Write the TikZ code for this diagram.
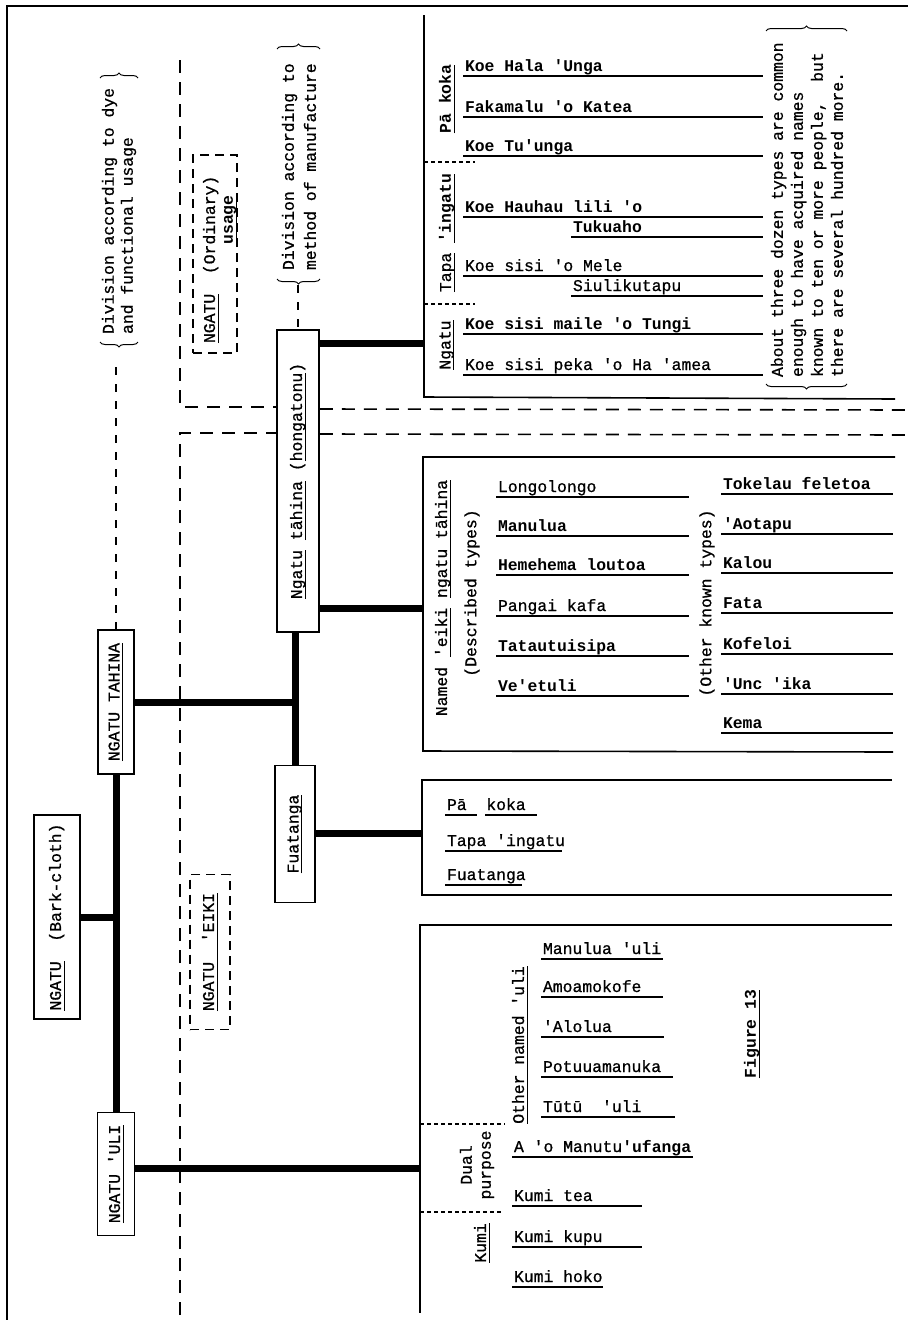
\documentclass[tikz,border=0pt]{standalone}
\usepackage{fontspec}
\setmainfont{Liberation Mono}[Ligatures=TeXOff, UprightFeatures={FakeBold=0.8}]
\usetikzlibrary{decorations.pathreplacing}
\newcommand\twsize{\fontsize{16.4}{20}\selectfont}
\newcommand\myul[1]{\setbox0\hbox{#1}\rlap{\vrule width\wd0 height -2.6pt depth 4pt}\box0\relax}
\tikzset{
  tw/.style={font=\twsize, inner sep=0pt, outer sep=0pt},
  twb/.style={font=\twsize\bfseries, inner sep=0pt, outer sep=0pt},
  vt/.style={tw, rotate=90},
  vtb/.style={twb, rotate=90},
  ent/.style={tw, anchor=base west},
  entb/.style={twb, anchor=base west},
  bx/.style={draw, line width=1.8pt, inner sep=0pt},
  dbx/.style={draw, line width=1.4pt, dash pattern=on 9pt off 6pt, inner sep=0pt},
  trunk/.style={line width=7pt},
  panel/.style={line width=1.6pt},
  ulr/.style={line width=1.5pt},
  sepline/.style={line width=1.3pt, dash pattern=on 4pt off 3pt},
  regline/.style={line width=1.6pt, dash pattern=on 13pt off 9pt},
  guideline/.style={line width=1.2pt, dash pattern=on 8pt off 9pt},
  bracedeco/.style={decorate, decoration={brace, amplitude=5pt}, line width=1pt},
}
\newcommand\tyent[6]{%
  \node[#5] (#1) at (#2,#4-5) {#6};
  \draw[ulr] (#2-2,#4) -- (#3,#4);}
\begin{document}
\begin{tikzpicture}[x=1pt,y=-1pt]
\fill[white] (0,0) rectangle (908,1320);
\useasboundingbox (0,0) rectangle (908,1320);
% frame
\draw[line width=1.5pt] (7,1320) -- (7,6) -- (908,6);

% ---- headings
\node[vt, anchor=west, align=left, font=\fontsize{16.4}{19}\selectfont] (divdye) at (119,334) {Division according to dye\\and functional usage};
\draw[bracedeco] (138,342) -- (100,342);
\draw[bracedeco] (100,78) -- (138,78);
\node[vt, anchor=west, align=left, font=\fontsize{16.4}{22}\selectfont] (divman) at (299,270) {Division according to\\method of manufacture};
\draw[bracedeco] (320,279) -- (277,279);
\draw[bracedeco] (277,49) -- (320,49);

% ---- enclosures
\node[dbx, minimum width=44, minimum height=198] (ord) at (215,254) {};
\node[vt, anchor=west, align=left, font=\fontsize{16.4}{18}\selectfont] (ordt) at (220,343) {\myul{NGATU}~~(Ordinary)\\\phantom{NGATU~~(Or}\myul{\textbf{usage}}};
\node[dbx, minimum width=40, minimum height=155] (eiki) at (210,952) {};
\node[vt] (eikit) at (eiki) {\myul{NGATU~~'EIKI}};

% ---- boxes
\node[bx, minimum width=46, minimum height=204] (ngatu) at (57,917) {};
\node[vt] (ngatut) at (ngatu) {\myul{NGATU}~~(Bark-cloth)};
\node[bx, minimum width=36, minimum height=144] (tahina) at (116,702) {};
\node[vt] (tahinat) at (tahina) {\myul{NGATU TAHINA}};
\node[bx, minimum width=37, minimum height=123] (uli) at (116,1174) {};
\node[vt] (ulit) at (uli) {\myul{NGATU 'ULI}};
\node[bx, minimum width=42, minimum height=302] (nt) at (298,481) {};
\node[vt] (ntt) at (nt) {\myul{Ngatu} \myul{tāhina} (\myul{hongatonu})};
\node[bx, minimum width=40, minimum height=137] (fu) at (295,834) {};
\node[vt] (fut) at (fu) {\myul{Fuatanga}};

% ---- dashed guides and regions
\coordinate (g1) at (116,367);
\draw[guideline] (g1) -- (tahina.north);
\coordinate (g2) at (298,285);
\draw[guideline] (g2) -- (nt.north);
\draw[regline] (180,60) -- (180,407) -- (nt.west |- 0,407);
\draw[regline] (nt.east |- 0,409) -- (908,410);
\draw[regline] (180,1315) -- (180,433) -- (nt.west |- 0,433);
\draw[regline] (nt.east |- 0,434) -- (908,435);

% ---- panel attachment points
\coordinate (P1) at (424,343);
\coordinate (P2) at (423,608);
\coordinate (P3) at (422,833);
\coordinate (P4) at (420,1168);

% ---- thick connectors
\draw[trunk] (ngatu.east) -- (ngatu.east -| tahina.south);
\draw[trunk] (tahina.south) -- (uli.north);
\draw[trunk] (tahina.east) -- (tahina.east -| fu.north);
\draw[trunk] (nt.south -| fu.north) -- (fu.north);
\draw[trunk] (nt.east |- P1) -- (P1);
\draw[trunk] (nt.east |- P2) -- (P2);
\draw[trunk] (fu.east |- P3) -- (P3);
\draw[trunk] (uli.east |- P4) -- (P4);

% ---- panels
\draw[panel] (424,15) -- (424,397) -- (895,399);
\draw[panel] (895,457) -- (423,457) -- (423,751) -- (893,752);
\draw[panel] (892,780) -- (422,780) -- (422,895) -- (892,895);
\draw[panel] (892,925) -- (420,925) -- (420,1313);

% ---- upper panel (hongatonu)
\node[vtb] (lpk) at (447,99) {\myul{Pā koka}};
\node[vt] (lti) at (447,233) {\myul{Tapa} \myul{\textbf{'ingatu}}};
\node[vt] (lng) at (447,345) {\myul{Ngatu}};
\draw[sepline] (424,162) -- (475,162);
\draw[sepline] (424,304) -- (475,304);
\tyent{a1}{465}{763}{76}{entb}{Koe Hala 'Unga}
\tyent{a2}{465}{763}{117}{entb}{Fakamalu 'o Katea}
\tyent{a3}{465}{763}{156}{entb}{Koe Tu'unga}
\tyent{a4}{465}{763}{217}{entb}{Koe Hauhau lili 'o}
\tyent{a5}{573}{763}{237}{entb}{Tukuaho}
\tyent{a6}{465}{763}{276}{ent}{Koe sisi 'o Mele}
\tyent{a7}{573}{763}{296}{ent}{Siulikutapu}
\tyent{a8}{465}{763}{334}{entb}{Koe sisi maile 'o Tungi}
\tyent{a9}{465}{763}{375}{ent}{Koe sisi peka 'o Ha 'amea}
\node[vt, anchor=west, align=left, font=\fontsize{16.4}{20}\selectfont] (about) at (807,377) {About three dozen types are common\\enough to have acquired names\\known to ten or more people,~~but\\there are several hundred more.};
\draw[bracedeco] (847,384) -- (766,384);
\draw[bracedeco] (766,31) -- (847,31);

% ---- middle panel ('eiki ngatu tahina)
\node[vt] (lnamed) at (443,598) {Named \myul{'eiki} \myul{ngatu tāhina}};
\node[vt] (ldesc) at (472,593) {(Described types)};
\node[vt] (lother) at (707,603) {(Other known types)};
\tyent{b1}{498}{689}{497}{ent}{Longolongo}
\tyent{b2}{498}{689}{536}{entb}{Manulua}
\tyent{b3}{498}{689}{575}{entb}{Hemehema loutoa}
\tyent{b4}{498}{689}{616}{ent}{Pangai kafa}
\tyent{b5}{498}{689}{656}{entb}{Tatautuisipa}
\tyent{b6}{498}{689}{696}{entb}{Ve'etuli}
\tyent{c1}{723}{893}{494}{entb}{Tokelau feletoa}
\tyent{c2}{723}{893}{534}{entb}{'Aotapu}
\tyent{c3}{723}{893}{573}{entb}{Kalou}
\tyent{c4}{723}{893}{613}{entb}{Fata}
\tyent{c5}{723}{893}{654}{entb}{Kofeloi}
\tyent{c6}{723}{893}{694}{entb}{'Unc 'ika}
\tyent{c7}{723}{893}{733}{entb}{Kema}

% ---- Fuatanga panel
\node[ent] (d1) at (447,810) {Pā~~koka};
\draw[ulr] (445,815) -- (477,815);
\draw[ulr] (485,815) -- (537,815);
\tyent{d2}{447}{562}{851}{ent}{Tapa 'ingatu}
\tyent{d3}{447}{522}{885}{ent}{Fuatanga}

% ---- lower panel ('uli)
\node[vt] (lonu) at (520,1045) {\myul{Other named 'uli}};
\node[vt, align=center, font=\fontsize{16.4}{19}\selectfont] (ldual) at (477,1165) {Dual\\purpose};
\node[vt] (lkumi) at (482,1243) {\myul{Kumi}};
\draw[sepline] (420,1124) -- (505,1124);
\draw[sepline] (420,1212) -- (503,1212);
\tyent{f1}{543}{663}{959}{ent}{Manulua 'uli}
\tyent{f2}{543}{663}{997}{ent}{Amoamokofe}
\tyent{f3}{543}{664}{1037}{ent}{'Alolua}
\tyent{f4}{543}{673}{1077}{ent}{Potuuamanuka}
\tyent{f5}{543}{675}{1117}{ent}{Tūtū~~'uli}
\tyent{f6}{514}{693}{1157}{ent}{A 'o Manutu\textbf{'ufanga}}
\tyent{f7}{514}{642}{1206}{ent}{Kumi tea}
\tyent{f8}{514}{642}{1247}{ent}{Kumi kupu}
\tyent{f9}{514}{603}{1287}{ent}{Kumi hoko}
\node[vtb] (fig) at (752,1034) {\myul{Figure 13}};
\end{tikzpicture}
\end{document}
